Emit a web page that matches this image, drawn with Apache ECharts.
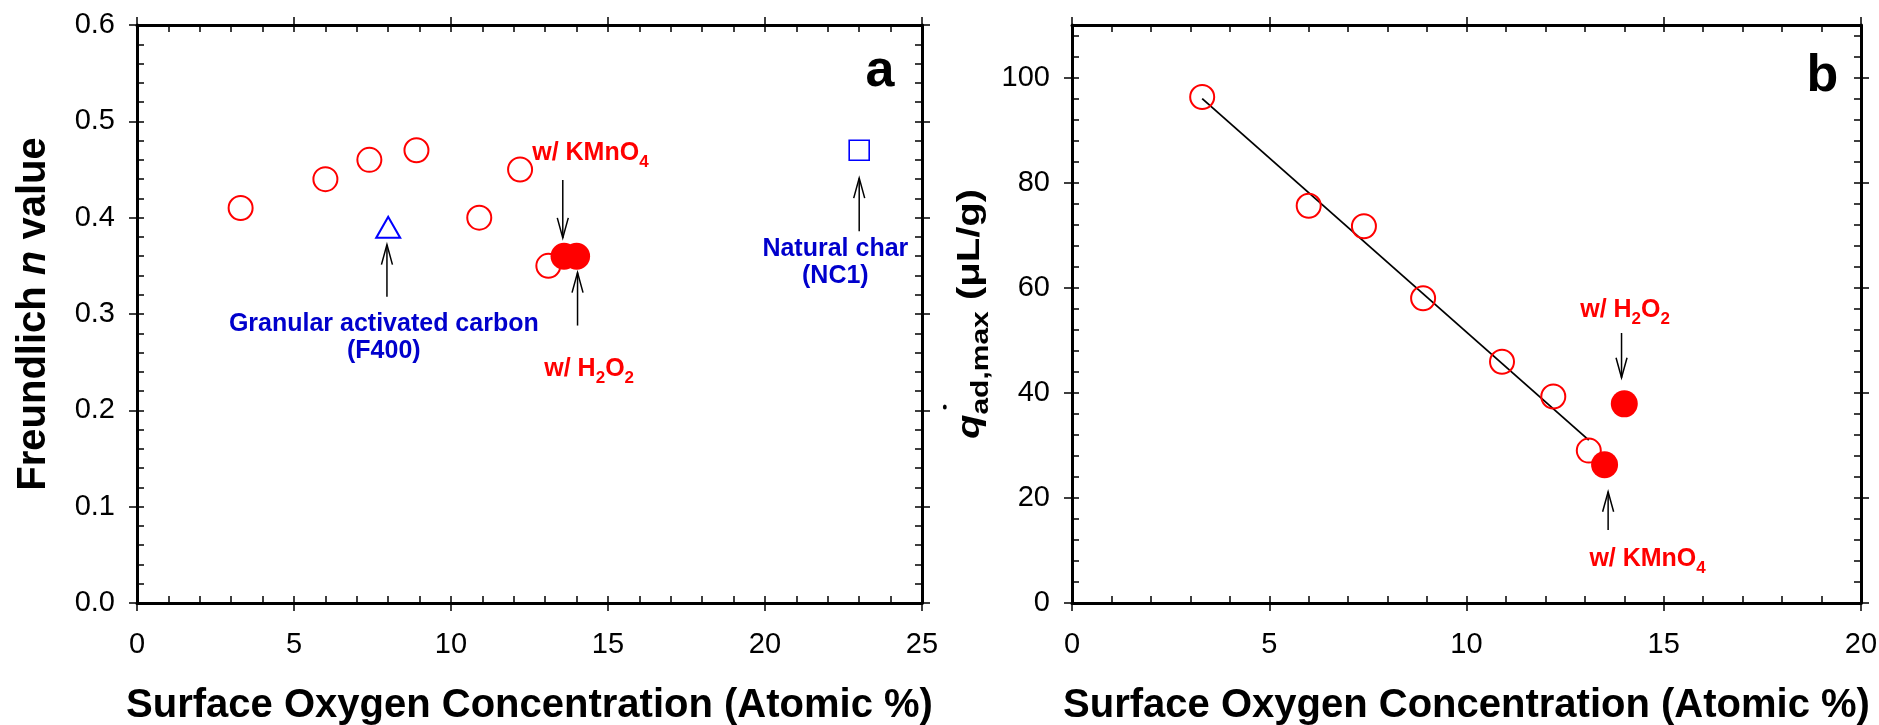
<!DOCTYPE html>
<html><head><meta charset="utf-8">
<script src="https://cdn.jsdelivr.net/npm/echarts@6/dist/echarts.min.js"></script>
<style>html,body{margin:0;padding:0;background:#fff}#c{width:1879px;height:725px}</style>
</head><body><div id="c"></div>
<script>
// ---------- data ----------
// Panel a : Freundlich n value vs surface O (atomic %)
const aOpenX   = [3.3, 6.0, 7.4, 8.9, 10.9, 12.2, 13.1];
const aOpenY   = [0.41, 0.44, 0.46, 0.47, 0.40, 0.45, 0.35];
const aFilledX = [13.6, 14.0];           // w/ KMnO4, w/ H2O2
const aFilledY = [0.36, 0.36];
const aGacX = [8.0];  const aGacY = [0.39];   // Granular activated carbon (F400)
const aNcX  = [23.0]; const aNcY  = [0.47];   // Natural char (NC1)
// Panel b : q'ad,max vs surface O
const bOpenX   = [3.3, 6.0, 7.4, 8.9, 10.9, 12.2, 13.1];
const bOpenY   = [96.3, 75.6, 71.7, 58.0, 45.9, 39.3, 29.0];
const bFilledX = [13.5, 14.0];           // w/ KMnO4, w/ H2O2
const bFilledY = [26.3, 37.9];
const bFitX = [3.3, 13.1];
const bFitY = [96.0, 31.0];
// axis ticks
const aYMajors = [0, 0.1, 0.2, 0.3, 0.4, 0.5, 0.6];
const bYMajors = [0, 20, 40, 60, 80, 100];

const zip = (xs, ys) => xs.map((x, i) => [x, ys[i]]);
const FONT = "'Liberation Sans', Arial, sans-serif";
const RED = '#ff0000', BLUE = '#0000ff', DBLUE = '#0000cc';
const XNAME = 'Surface Oxygen Concentration (Atomic %)';

function axesFor(g, o) {
  const lineMain = {onZero: false, lineStyle: {color: '#000', width: 3}};
  const tickOut = {show: true, inside: false, length: 8, lineStyle: {color: '#000', width: 1.5}};
  const tickIn  = {show: true, inside: true, length: 7, lineStyle: {color: '#000', width: 1.5}};
  const noLine = {show: false, onZero: false};
  const base = {gridIndex: g, type: 'value', splitLine: {show: false}, axisLabel: {show: false}, silent: true};
  const xs = [
    Object.assign({}, base, {position: 'bottom', min: o.xMin, max: o.xMax, interval: o.xInt,
      axisLine: lineMain, axisTick: tickOut,
      axisLabel: {show: true, margin: 27, fontSize: 29, color: '#000', fontFamily: FONT},
      name: XNAME, nameLocation: 'middle', nameGap: 83,
      nameTextStyle: {fontSize: 40, fontWeight: 'bold', fontFamily: FONT, color: '#000', lineHeight: 40}}),
    Object.assign({}, base, {position: 'bottom', min: o.xMin, max: o.xMax, interval: o.xMinor, axisLine: noLine, axisTick: tickIn}),
    Object.assign({}, base, {position: 'top', min: o.xMin, max: o.xMax, interval: o.xInt, axisLine: lineMain, axisTick: tickOut}),
    Object.assign({}, base, {position: 'top', min: o.xMin, max: o.xMax, interval: o.xMinor, axisLine: noLine, axisTick: tickIn})
  ];
  const ys = [
    Object.assign({}, base, {position: 'left', min: o.yMin, max: o.yMax, interval: o.yInt,
      axisLine: lineMain, axisTick: Object.assign({}, tickOut, {customValues: o.yMajors}),
      axisLabel: {show: true, margin: 22, fontSize: 29, color: '#000', fontFamily: FONT,
        customValues: o.yMajors, formatter: o.yFmt},
      name: o.yName || '', nameLocation: 'middle', nameGap: o.yNameGap || 85, nameRotate: 90,
      nameTextStyle: o.yNameStyle || {}}),
    Object.assign({}, base, {position: 'left', min: o.yMin, max: o.yMax, interval: o.yMinor, axisLine: noLine, axisTick: tickIn}),
    Object.assign({}, base, {position: 'right', min: o.yMin, max: o.yMax, interval: o.yInt, axisLine: lineMain,
      axisTick: Object.assign({}, tickOut, {customValues: o.yMajors})}),
    Object.assign({}, base, {position: 'right', min: o.yMin, max: o.yMax, interval: o.yMinor, axisLine: noLine, axisTick: tickIn})
  ];
  return {xs, ys};
}

const A = axesFor(0, {xMin: 0, xMax: 25, xInt: 5, xMinor: 1, yMin: 0, yMax: 0.6, yInt: 0.1, yMinor: 0.02,
  yMajors: aYMajors, yFmt: v => (v > 0.6001 ? '' : v.toFixed(1)),
  yName: '{b|Freundlich }{i|n}{b| value}', yNameGap: 83,
  yNameStyle: {rich: {
    b: {fontSize: 40, fontWeight: 'bold', fontFamily: FONT, color: '#000', lineHeight: 40},
    i: {fontSize: 40, fontWeight: 'bold', fontStyle: 'italic', fontFamily: FONT, color: '#000', lineHeight: 40}}}});
const B = axesFor(1, {xMin: 0, xMax: 20, xInt: 5, xMinor: 1, yMin: 0, yMax: 110, yInt: 20, yMinor: 4,
  yMajors: bYMajors, yFmt: v => (v > 100 ? '' : String(v))});

const openStyle = c => ({color: 'rgba(255,255,255,0)', borderColor: c, borderWidth: 2, opacity: 1});
const filledStyle = c => ({color: c, opacity: 1});
const common = {silent: true, animation: false, emphasis: {disabled: true}};

const option = {
  backgroundColor: '#fff',
  animation: false,
  grid: [
    {left: 137, right: 957, top: 25, bottom: 122, outerBoundsMode: 'none', containLabel: false},
    {left: 1072, right: 18, top: 25, bottom: 122, outerBoundsMode: 'none', containLabel: false}
  ],
  xAxis: A.xs.concat(B.xs),
  yAxis: A.ys.concat(B.ys),
  series: [
    Object.assign({type: 'scatter', xAxisIndex: 0, yAxisIndex: 0, data: zip(aOpenX, aOpenY),
      symbol: 'circle', symbolSize: 24, itemStyle: openStyle(RED), z: 3}, common),
    Object.assign({type: 'scatter', xAxisIndex: 0, yAxisIndex: 0, data: zip(aFilledX, aFilledY),
      symbol: 'circle', symbolSize: 27, itemStyle: filledStyle(RED), z: 4}, common),
    Object.assign({type: 'scatter', xAxisIndex: 0, yAxisIndex: 0, data: zip(aGacX, aGacY),
      symbol: 'triangle', symbolSize: [24, 21], itemStyle: openStyle(BLUE), z: 3}, common),
    Object.assign({type: 'scatter', xAxisIndex: 0, yAxisIndex: 0, data: zip(aNcX, aNcY),
      symbol: 'rect', symbolSize: 20, itemStyle: Object.assign(openStyle(BLUE), {borderWidth: 1.6}), z: 3}, common),
    Object.assign({type: 'line', xAxisIndex: 4, yAxisIndex: 4, data: zip(bFitX, bFitY),
      showSymbol: false, symbol: 'none', lineStyle: {color: '#000', width: 1.8}, z: 2}, common),
    Object.assign({type: 'scatter', xAxisIndex: 4, yAxisIndex: 4, data: zip(bOpenX, bOpenY),
      symbol: 'circle', symbolSize: 24, itemStyle: openStyle(RED), z: 3}, common),
    Object.assign({type: 'scatter', xAxisIndex: 4, yAxisIndex: 4, data: zip(bFilledX, bFilledY),
      symbol: 'circle', symbolSize: 27, itemStyle: filledStyle(RED), z: 4}, common)
  ]
};

const chart = echarts.init(document.getElementById('c'), null, {renderer: 'canvas'});
chart.setOption(option);

// ---------- annotations (positions in data units of each panel) ----------
const subRich = c => ({
  m: {fontSize: 25, fontWeight: 'bold', fontFamily: FONT, fill: c, lineHeight: 25},
  s: {fontSize: 17, fontWeight: 'bold', fontFamily: FONT, fill: c, lineHeight: 25, padding: [19, 0, 0, 0]}
});
const annA = [
  {t: '{m|w/ KMnO}{s|4}', p: [14.44, 0.467], c: RED, rich: true},
  {t: '{m|w/ H}{s|2}{m|O}{s|2}', p: [14.40, 0.2427], c: RED, rich: true},
  {t: 'Granular activated carbon\n(F400)', p: [7.86, 0.2758], c: DBLUE},
  {t: 'Natural char\n(NC1)', p: [22.24, 0.3537], c: DBLUE},
  {t: 'a', p: [23.66, 0.5516], c: '#000', big: true}
];
const arrA = [[13.56, 0.439, 0.379], [14.03, 0.288, 0.343], [7.96, 0.318, 0.372], [23.0, 0.386, 0.441]];
const annB = [
  {t: '{m|w/ H}{s|2}{m|O}{s|2}', p: [14.02, 55.76], c: RED, rich: true},
  {t: '{m|w/ KMnO}{s|4}', p: [14.59, 8.37], c: RED, rich: true},
  {t: 'b', p: [19.02, 100.1], c: '#000', big: true}
];
const arrB = [[13.93, 51.38, 42.88], [13.59, 13.89, 21.18]];

const graphics = [];
function addAnn(list, arrows, finder) {
  list.forEach(a => {
    const pt = chart.convertToPixel(finder, a.p);
    const style = {text: a.t, align: 'center', verticalAlign: 'middle', fill: a.c, fontFamily: FONT,
      fontWeight: 'bold', fontSize: a.big ? 52 : 25, lineHeight: a.big ? 52 : 27};
    if (a.rich) style.rich = subRich(a.c);
    graphics.push({type: 'text', x: pt[0], y: pt[1], style, silent: true, z: 10});
  });
  arrows.forEach(r => {
    const p0 = chart.convertToPixel(finder, [r[0], r[1]]);
    const p1 = chart.convertToPixel(finder, [r[0], r[2]]);
    const dir = p1[1] > p0[1] ? 1 : -1;
    const st = {stroke: '#000', lineWidth: 1.5, fill: null};
    graphics.push({type: 'line', shape: {x1: p0[0], y1: p0[1], x2: p1[0], y2: p1[1]}, style: st, silent: true, z: 10});
    graphics.push({type: 'polyline', shape: {points: [[p1[0] - 5.5, p1[1] - dir * 20], [p1[0], p1[1]], [p1[0] + 5.5, p1[1] - dir * 20]]},
      style: st, silent: true, z: 10});
  });
}
addAnn(annA, arrA, {xAxisIndex: 0, yAxisIndex: 0});
addAnn(annB, arrB, {xAxisIndex: 4, yAxisIndex: 4});

// right-panel y-axis title (q'ad,max (μL/g)), rotated, slightly condensed like the original
const cB = chart.convertToPixel({xAxisIndex: 4, yAxisIndex: 4}, [0, 55]);
graphics.push({type: 'group', x: cB[0] - 101, y: cB[1], rotation: Math.PI / 2, scaleY: 0.77, silent: true, z: 10,
  children: [
    {type: 'text', style: {text: '{q|q}{s|ad,max}{m| (μL/g)}', align: 'center', verticalAlign: 'middle',
      rich: {
        q: {fontSize: 40, fontWeight: 'bold', fontStyle: 'italic', fontFamily: FONT, fill: '#000', lineHeight: 40},
        s: {fontSize: 30, fontWeight: 'bold', fontFamily: FONT, fill: '#000', lineHeight: 40, padding: [28, 0, 0, 0]},
        m: {fontSize: 40, fontWeight: 'bold', fontFamily: FONT, fill: '#000', lineHeight: 40}
      }}},
    {type: 'circle', shape: {cx: -93, cy: -34, r: 2.5}, style: {fill: '#000'}}
  ]});

chart.setOption({graphic: graphics});
</script>
</body></html>
